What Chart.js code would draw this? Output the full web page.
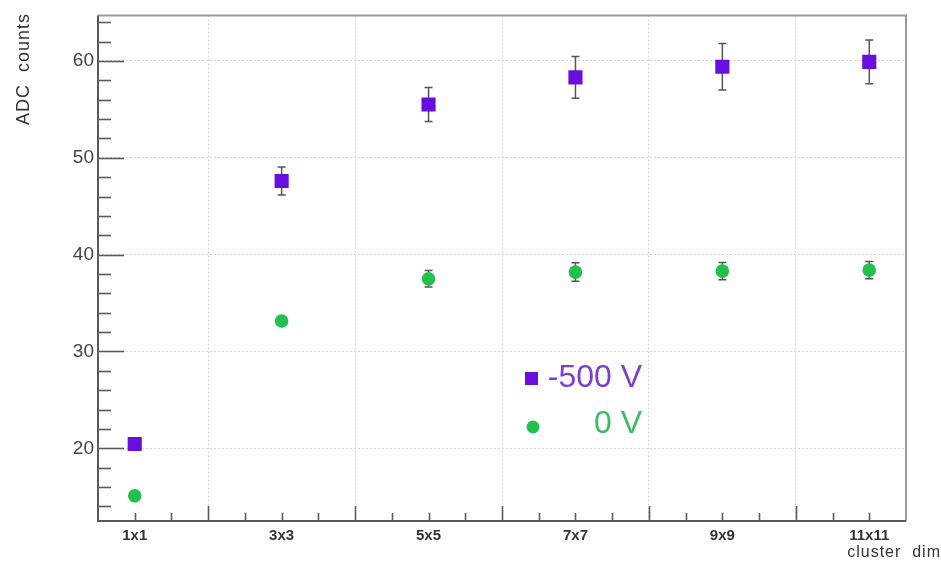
<!DOCTYPE html>
<html>
<head>
<meta charset="utf-8">
<script src="https://cdn.jsdelivr.net/npm/chart.js@4.4.1/dist/chart.umd.min.js"></script>
<style>
html,body{margin:0;padding:0;background:#fff;}
#wrap{width:941px;height:566px;}
</style>
</head>
<body>
<div id="wrap"><canvas id="c" width="941" height="566"></canvas></div>
<script>
// ---- data ----
const categories = ['1x1','3x3','5x5','7x7','9x9','11x11'];
const seriesNames = ['-500 V','0 V'];
const valuesNeg500 = [20.45, 47.6, 55.5, 58.3, 59.4, 59.9];
const errorsNeg500 = [0.3, 1.45, 1.75, 2.15, 2.4, 2.25];
const values0V = [15.1, 33.15, 37.5, 38.2, 38.3, 38.4];
const errors0V = [0.2, 0.3, 0.85, 0.95, 0.9, 0.9];
const yTickLabels = [20, 30, 40, 50, 60];

const purple = '#6a0ee0';
const green = '#22c04c';

// category i sits at x = 2*i+1 on a numeric axis
const catPos = categories.map((c, i) => 2 * i + 1);

const ds = [
  {label: seriesNames[0], data: valuesNeg500.map((v, i) => ({x: catPos[i], y: v})), err: errorsNeg500,
   pointStyle: 'rect', pointRadius: 10, pointHoverRadius: 10, backgroundColor: purple, borderColor: purple, borderWidth: 0, showLine: false,
   legendText: '#7b3fd0'},
  {label: seriesNames[1], data: values0V.map((v, i) => ({x: catPos[i], y: v})), err: errors0V,
   pointStyle: 'circle', pointRadius: 6.8, pointHoverRadius: 6.8, backgroundColor: green, borderColor: green, borderWidth: 0, showLine: false,
   legendText: '#3cba66'}
];

const FONT = "'Liberation Sans', Arial, Helvetica, sans-serif";

const errorBars = {
  id: 'errorBars',
  beforeDatasetsDraw(chart) {
    const {ctx, scales: {x, y}} = chart;
    ctx.save();
    ctx.strokeStyle = '#555';
    ctx.lineWidth = 1.5;
    chart.data.datasets.forEach(d => {
      d.data.forEach((p, i) => {
        const e = d.err[i];
        const px = x.getPixelForValue(p.x);
        const t = y.getPixelForValue(p.y + e);
        const b = y.getPixelForValue(p.y - e);
        ctx.beginPath();
        ctx.moveTo(px, t); ctx.lineTo(px, b);
        ctx.moveTo(px - 4, t); ctx.lineTo(px + 4, t);
        ctx.moveTo(px - 4, b); ctx.lineTo(px + 4, b);
        ctx.stroke();
      });
    });
    ctx.restore();
  }
};

const frameAndTicks = {
  id: 'frameAndTicks',
  afterDatasetsDraw(chart) {
    const {ctx, chartArea: a, scales: {x, y}} = chart;
    ctx.save();
    ctx.strokeStyle = '#999';
    ctx.lineWidth = 2;
    ctx.beginPath();
    ctx.moveTo(a.left, a.top); ctx.lineTo(a.right, a.top); ctx.lineTo(a.right, a.bottom);
    ctx.stroke();
    ctx.strokeStyle = '#5a5a5a';
    ctx.beginPath();
    ctx.moveTo(a.left, a.top); ctx.lineTo(a.left, a.bottom); ctx.lineTo(a.right, a.bottom);
    ctx.stroke();
    ctx.lineWidth = 1.6;
    for (let v = 14; v <= y.max; v += 2) {
      const py = Math.round(y.getPixelForValue(v)) + 0.5;
      const len = (v % 10 === 0) ? 26 : 13;
      ctx.beginPath(); ctx.moveTo(a.left, py); ctx.lineTo(a.left + len, py); ctx.stroke();
    }
    for (let v = 1; v < x.max; v += 0.5) {
      const px = Math.round(x.getPixelForValue(v)) + 0.5;
      const len = (v % 2 === 0) ? 15 : 8;
      ctx.beginPath(); ctx.moveTo(px, a.bottom); ctx.lineTo(px, a.bottom - len); ctx.stroke();
    }
    ctx.restore();
  },
  afterDraw(chart) {
    const {ctx} = chart;
    ctx.save();
    ctx.fillStyle = '#333';
    ctx.font = '16px ' + FONT;
    ctx.letterSpacing = '1px';
    ctx.textAlign = 'right';
    ctx.textBaseline = 'bottom';
    ctx.fillText('cluster  dim', 941, 561);
    ctx.translate(33, 13);
    ctx.rotate(-Math.PI / 2);
    ctx.font = '18px ' + FONT;
    ctx.letterSpacing = '1px';
    ctx.textAlign = 'right';
    ctx.textBaseline = 'bottom';
    ctx.fillText('ADC  counts', 0, 0);
    ctx.restore();

    ctx.save();
    ctx.font = '32px ' + FONT;
    ctx.textAlign = 'right';
    ctx.textBaseline = 'middle';
    const rows = [378, 424];
    chart.data.datasets.forEach((d, i) => {
      const cy = rows[i];
      ctx.fillStyle = d.backgroundColor;
      if (d.pointStyle === 'rect') {
        ctx.fillRect(525, cy - 6, 13, 13);
      } else {
        ctx.beginPath(); ctx.arc(533, cy + 3, 6.5, 0, Math.PI * 2); ctx.fill();
      }
      ctx.fillStyle = d.legendText;
      ctx.fillText(d.label, 642, cy);
    });
    ctx.restore();
  }
};

new Chart(document.getElementById('c'), {
  type: 'scatter',
  data: {datasets: ds},
  options: {
    responsive: false,
    animation: false,
    events: [],
    layout: {padding: {left: 0, right: 35, top: 14, bottom: 0}},
    plugins: {legend: {display: false}, tooltip: {enabled: false}},
    scales: {
      x: {
        type: 'linear', min: 0.5, max: 11.5,
        afterBuildTicks(s) { s.ticks = []; for (let v = 1; v <= 11; v++) s.ticks.push({value: v}); },
        afterFit(s) { s.height = 45; },
        ticks: {
          autoSkip: false, maxRotation: 0, padding: 6,
          color: '#333', font: {family: FONT, size: 15, weight: 'bold'},
          callback: v => (v % 2 === 1) ? categories[(v - 1) / 2] : ''
        },
        grid: {
          drawTicks: false,
          color: c => (c.tick && c.tick.value % 2 === 0) ? '#d2d2d2' : 'rgba(0,0,0,0)',
          lineWidth: 1
        },
        border: {display: false, dash: [2, 2]}
      },
      y: {
        type: 'linear', min: 12.5, max: 64.7,
        afterBuildTicks(s) { s.ticks = yTickLabels.map(v => ({value: v})); },
        afterFit(s) { s.width = 98; },
        ticks: {
          autoSkip: false, padding: 4,
          color: '#444', font: {family: FONT, size: 19}
        },
        grid: {drawTicks: false, color: '#d2d2d2', lineWidth: 1},
        border: {display: false, dash: [2, 2]}
      }
    }
  },
  plugins: [errorBars, frameAndTicks]
});
</script>
</body>
</html>
